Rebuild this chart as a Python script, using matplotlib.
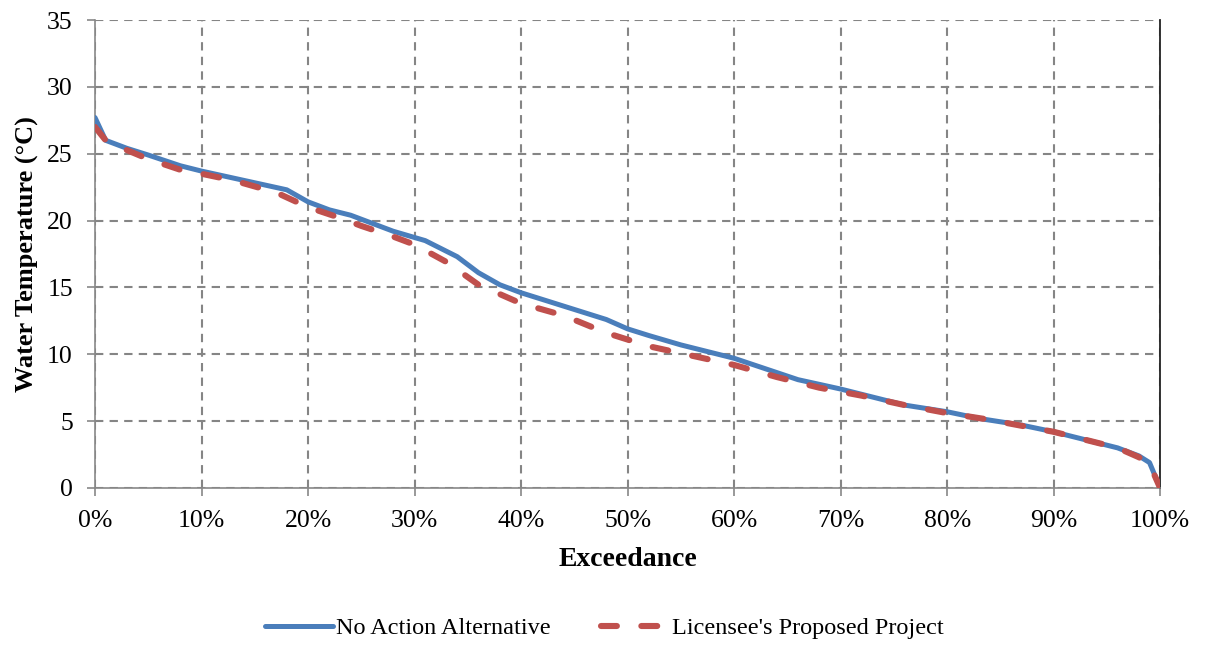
import matplotlib
matplotlib.use("Agg")
import matplotlib.pyplot as plt
from matplotlib.ticker import PercentFormatter

plt.rcParams['font.family'] = ['Liberation Serif', 'DejaVu Serif']

na_x = [0, 1, 3, 5, 8, 10, 14, 18, 20, 22, 24, 26, 28, 31, 34, 36, 38, 40, 44, 48, 50, 52,
        55, 57, 60, 63, 66, 70, 73, 76, 80, 83, 87, 90, 93, 96, 98, 99, 100]
na_y = [27.7, 26.0, 25.4, 24.9, 24.1, 23.7, 23.0, 22.3, 21.4, 20.8, 20.4, 19.8, 19.2, 18.5, 17.3,
        16.1, 15.2, 14.6, 13.6, 12.6, 11.9, 11.4, 10.7, 10.3, 9.7, 8.9, 8.1, 7.4, 6.8, 6.2,
        5.7, 5.2, 4.7, 4.2, 3.6, 3.0, 2.4, 1.9, 0.0]

lp_x = [0, 1, 2, 5, 8, 10, 13, 17, 20, 23, 25, 28, 30, 33, 36, 40, 44, 48, 52, 56, 60, 64,
        68, 72, 76, 80, 84, 88, 90, 93, 96, 98, 99, 100]
lp_y = [27.0, 26.0, 25.6, 24.6, 23.8, 23.5, 23.0, 22.1, 21.0, 20.2, 19.6, 18.8, 18.2, 16.9,
        15.2, 13.8, 12.9, 11.6, 10.6, 9.9, 9.2, 8.3, 7.5, 6.9, 6.2, 5.6, 5.1, 4.5, 4.2, 3.6,
        3.0, 2.3, 1.8, 0.0]

fig = plt.figure(figsize=(12.09, 6.58), dpi=100)
ax = fig.add_axes([0.0786, 0.2584, 0.881, 0.7112])

ax.plot(na_x, na_y, color='#4a7ebb', lw=3.6, label='No Action Alternative', zorder=3,
        solid_capstyle='round', solid_joinstyle='round')
ax.plot(lp_x, lp_y, color='#c0504d', lw=4.4, ls=(0, (2.6, 4.0)), dash_capstyle='round',
        label="Licensee's Proposed Project", zorder=4)

ax.set_xlim(0, 100)
ax.set_ylim(0, 35)
ax.set_xticks(range(0, 101, 10))
ax.set_yticks(range(0, 36, 5))
ax.xaxis.set_major_formatter(PercentFormatter(decimals=0))
ax.grid(True, color='#858585', ls=(0, (4, 3)), lw=1.5)
ax.set_axisbelow(True)
for s in ['left', 'bottom']:
    ax.spines[s].set_color('#888888')
    ax.spines[s].set_linewidth(1.2)
ax.spines['top'].set_visible(False)
ax.spines['right'].set_color('#222222')
ax.spines['right'].set_linewidth(1.3)
ax.tick_params(axis='both', colors='#888888', labelcolor='black', labelsize=18.5,
               length=6, width=1.2, direction='out')
ax.tick_params(axis='x', pad=10)
ax.tick_params(axis='y', pad=10)

ax.set_xlabel('Exceedance', fontsize=20, fontweight='bold', labelpad=11)
ax.set_ylabel('Water Temperature (°C)', fontsize=19, fontweight='bold', labelpad=6)

fig.legend(loc='center', bbox_to_anchor=(0.5, 0.045), ncol=2, frameon=False,
           fontsize=17.5, handlelength=2.8, handletextpad=0.1, columnspacing=2.1)

fig.savefig('out.png', dpi=100)
